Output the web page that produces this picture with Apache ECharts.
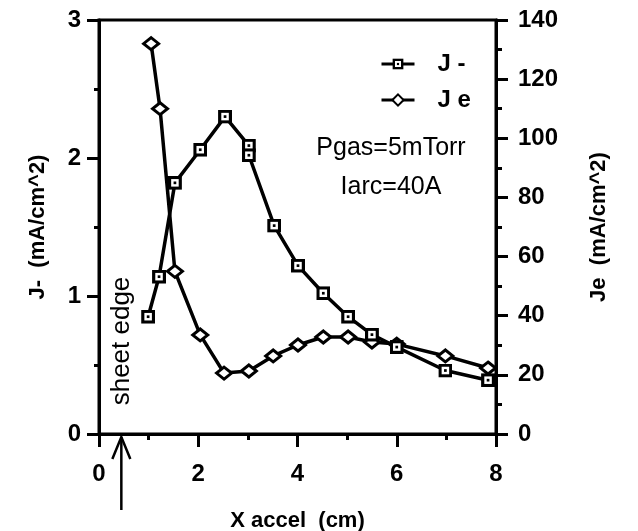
<!DOCTYPE html>
<html>
<head>
<meta charset="utf-8">
<script src="https://cdn.jsdelivr.net/npm/echarts@6/dist/echarts.min.js"></script>
<style>
html, body { margin: 0; padding: 0; background: #fff; }
#main { width: 638px; height: 531px; }
</style>
</head>
<body>
<div id="main"></div>
<script>
// J- (left axis, mA/cm^2)
var jmX = [0.99, 1.21, 1.53, 2.04, 2.54, 3.02, 3.02, 3.53, 4.01, 4.52, 5.02, 5.5, 6.0, 6.98, 7.84];
var jmY = [0.85, 1.14, 1.82, 2.06, 2.30, 2.09, 2.02, 1.51, 1.22, 1.02, 0.85, 0.72, 0.63, 0.46, 0.39];
// Je (right axis, mA/cm^2)
var jeX = [1.05, 1.23, 1.53, 2.04, 2.52, 3.02, 3.51, 4.01, 4.52, 5.02, 5.5, 6.0, 6.98, 7.84];
var jeY = [132, 110, 55, 33.5, 20.6, 21.3, 26.4, 30.1, 32.8, 32.8, 31.1, 30.4, 26.4, 22.3];
var sheetEdgeX = 0.45;

var font = 'Liberation Sans, Arial, Helvetica, sans-serif';

var sqSvg = '<svg xmlns="http://www.w3.org/2000/svg" width="26" height="26" viewBox="0 0 26 26">' +
    '<rect x="3" y="3" width="20" height="20" fill="#fff" stroke="#000" stroke-width="6"/>' +
    '<rect x="10.5" y="10.5" width="5" height="5" fill="#000"/></svg>';
var sqSymbol = 'image://data:image/svg+xml;charset=utf-8,' + encodeURIComponent(sqSvg);

function pairs(xs, ys) {
    return xs.map(function (x, i) { return [x, ys[i]]; });
}

var chart = echarts.init(document.getElementById('main'));

var tickLabel = {color: '#000', fontFamily: font, fontWeight: 'bold', fontSize: 24};
var axisName = {color: '#000', fontFamily: font, fontWeight: 'bold', fontSize: 22};

var option = {
    animation: false,
    backgroundColor: '#fff',
    grid: {
        left: 99, right: 142, top: 20, bottom: 97,
        outerBoundsMode: 'none',
        show: true, borderColor: '#000', borderWidth: 3
    },
    legend: {
        orient: 'vertical',
        left: 375, top: 47,
        itemWidth: 33, itemHeight: 14, itemGap: 12,
        data: ['J-', 'Je'],
        lineStyle: {width: 3},
        formatter: function (name) { return name.split('').join(' '); },
        textStyle: {color: '#000', fontFamily: font, fontWeight: 'bold', fontSize: 24, padding: [0, 0, 0, 18]}
    },
    xAxis: {
        type: 'value', min: 0, max: 8, interval: 2,
        name: 'X accel  (cm)', nameLocation: 'middle', nameGap: 76,
        nameTextStyle: axisName,
        axisLine: {onZero: false, lineStyle: {color: '#000', width: 3}},
        axisTick: {length: 13, lineStyle: {width: 3}},
        minorTick: {show: true, splitNumber: 2, length: 6, lineStyle: {color: '#000', width: 3}},
        splitLine: {show: false},
        axisLabel: Object.assign({margin: 28}, tickLabel)
    },
    yAxis: [
        {
            type: 'value', min: 0, max: 3, interval: 1,
            name: 'J-  (mA/cm^2)', nameLocation: 'middle', nameGap: 50, nameRotate: 90,
            nameTextStyle: axisName,
            axisLine: {onZero: false, lineStyle: {color: '#000', width: 3}},
            axisTick: {length: 12, lineStyle: {width: 3}},
            minorTick: {show: true, splitNumber: 2, length: 5, lineStyle: {color: '#000', width: 3}},
            splitLine: {show: false},
            axisLabel: Object.assign({margin: 18}, tickLabel)
        },
        {
            type: 'value', min: 0, max: 140, interval: 20,
            name: 'Je  (mA/cm^2)', nameLocation: 'middle', nameGap: 92, nameRotate: 90,
            nameTextStyle: axisName,
            axisLine: {onZero: false, lineStyle: {color: '#000', width: 3}},
            axisTick: {length: 12, lineStyle: {width: 3}},
            minorTick: {show: true, splitNumber: 2, length: 6, lineStyle: {color: '#000', width: 3}},
            splitLine: {show: false},
            axisLabel: Object.assign({margin: 22}, tickLabel)
        }
    ],
    series: [
        {
            name: 'J-', type: 'line', yAxisIndex: 0,
            data: pairs(jmX, jmY),
            symbol: sqSymbol, symbolSize: 14, showAllSymbol: true,
            lineStyle: {color: '#000', width: 3.5},
            itemStyle: {color: '#000'},
            z: 3
        },
        {
            name: 'Je', type: 'line', yAxisIndex: 1,
            data: pairs(jeX, jeY),
            symbol: 'diamond', symbolSize: [15, 12], showAllSymbol: true,
            lineStyle: {color: '#000', width: 3.5},
            itemStyle: {color: '#fff', borderColor: '#000', borderWidth: 3},
            z: 2
        }
    ]
};
chart.setOption(option);

// annotations: conditions text, sheet edge label and arrow
var ax = chart.convertToPixel({xAxisIndex: 0}, sheetEdgeX);
var y0 = chart.convertToPixel({yAxisIndex: 0}, 0);
var noteStyle = {fill: '#000', font: '25px ' + font, textAlign: 'center', textVerticalAlign: 'middle'};

chart.setOption({
    graphic: [
        {type: 'text', style: Object.assign({text: 'Pgas=5mTorr', x: 391, y: 148}, noteStyle)},
        {type: 'text', style: Object.assign({text: 'Iarc=40A', x: 391, y: 187}, noteStyle)},
        {type: 'text', x: ax, y: y0 - 93, rotation: Math.PI / 2,
            style: Object.assign({text: 'sheet edge'}, noteStyle, {font: '26px ' + font})},
        {type: 'line', shape: {x1: ax, y1: y0 + 3, x2: ax, y2: y0 + 76}, style: {stroke: '#000', lineWidth: 2.5}},
        {type: 'polyline', shape: {points: [[ax - 9, y0 + 25], [ax, y0 + 3], [ax + 9, y0 + 25]]},
            style: {stroke: '#000', lineWidth: 2.5, fill: null}}
    ]
});
</script>
</body>
</html>
